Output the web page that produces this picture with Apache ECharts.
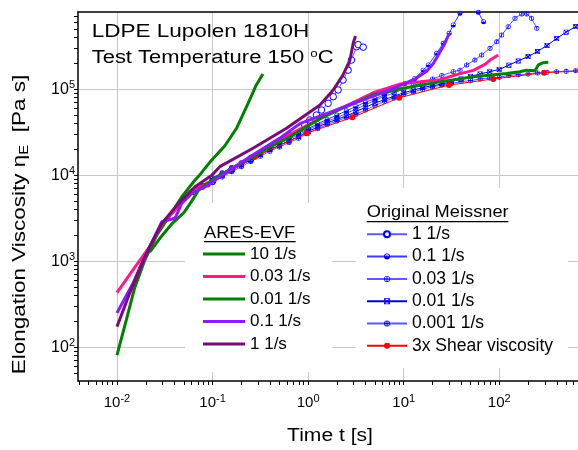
<!DOCTYPE html>
<html><head><meta charset="utf-8">
<script src="https://cdn.jsdelivr.net/npm/echarts@6/dist/echarts.min.js"></script>
<style>html,body{margin:0;padding:0;background:#fff}#c{width:578px;height:450px}</style>
</head><body><div id="c"></div>
<script>
// ---- Data: time t [s], elongational viscosity [Pa s] ----
// ARES-EVF
const aresT_10   = [0.01,0.0125,0.0153,0.0196,0.0261,0.0359,0.0475,0.0656,0.0734,0.0982,0.134,0.179,0.234,0.283,0.336];
const aresE_10   = [81,207,490,1040,2020,3450,5600,8810,10100,15100,21900,35500,67500,109000,151000];
const aresT_003  = [0.01,0.0147,0.022,0.0294,0.044,0.0605,0.0906,0.158,0.316,0.631,1.58,4.79,9.12,23.9,35.8,53.5,70.8,80,97.7];
const aresE_003  = [432,794,1480,2690,4320,6760,8070,12000,19100,29500,50100,91200,115000,129000,148000,166000,195000,219000,251000];
const aresT_001  = [0.022,0.0294,0.0374,0.0499,0.0605,0.0716,0.1,0.2,0.398,0.646,1.44,2.51,4.79,9.89,23.9,53.5,119,165,194,237,256,289,326];
const aresE_001  = [1280,1970,2720,3650,5010,6750,8910,13800,21400,28100,47900,63100,85900,103000,122000,140000,153000,160000,167000,164000,192000,204000,206000];
const aresT_01   = [0.01,0.0147,0.0196,0.0294,0.0405,0.0475,0.0605,0.0834,0.126,0.251,0.501,0.818,1.58,2.73,5.64,9.12,13.6,17.4,20.4,23.0,27.0,29.9];
const aresE_01   = [251,555,1130,2880,3160,4720,6170,7360,10000,16600,26900,39800,52500,66100,89100,110000,135000,162000,200000,251000,343000,448000];
const aresT_1    = [0.01,0.0136,0.0178,0.022,0.0294,0.044,0.0656,0.0982,0.119,0.265,0.594,1.33,1.83,2.32,2.74,2.96,3.13];
const aresE_1    = [174,427,891,1480,2750,4720,7360,10000,12600,20600,35200,65600,98200,147000,219000,343000,417000];
// Original Meissner
const meiT_1     = [0.1,0.158,0.251,0.398,0.631,0.923,1.04,1.22,1.38,1.62,1.83,2.06,2.32,2.62,2.84,3.21,3.34,3.77];
const meiE_1     = [8500,11500,15500,21000,28800,38500,44000,50200,57400,68700,82000,98200,128000,167000,219000,313000,331000,309000];
const meiT_01    = [0.1,0.126,0.158,0.2,0.251,0.316,0.398,0.501,0.631,0.794,1,1.26,1.58,2,2.51,3.16,3.98,5.01,6.31,7.94,10.3,13.1,16.0,18.1,22.1,25.9,29.9,33.0,38.8,47.9,60.3,68.5];
const meiE_01    = [9330,10700,12300,14100,16200,18600,21400,24000,26900,30900,34700,39800,44700,50100,56200,63100,70800,77600,87100,97700,117000,134000,167000,192000,262000,343000,448000,560000,766000,1050000,785000,611000];
const meiT_003   = [0.1,0.126,0.158,0.2,0.251,0.316,0.398,0.501,0.631,0.794,1,1.26,1.58,2,2.51,3.16,3.98,5.01,6.31,7.94,10,12.6,15.8,20,25.1,33.0,38.8,45.6,55.6,65.5,80.0,94.0,106,124,146,172,194,218,247];
const meiE_003   = [9120,10500,12000,13800,15800,18200,20900,23400,26300,29500,33900,38000,42700,46800,52500,58900,66100,74100,83200,91200,100000,110000,120000,132000,145000,160000,167000,192000,219000,251000,300000,357000,428000,535000,670000,752000,752000,670000,512000];
const meiT_001   = [0.079,0.1,0.126,0.158,0.2,0.251,0.316,0.398,0.501,0.631,0.794,1,1.26,1.58,2,2.51,3.16,3.98,5.01,6.31,7.94,10,12.6,15.8,20,25.1,31.6,39.8,50.1,63.1,79.4,100,126,158,200,251,316,398,501,631,794];
const meiE_001   = [7590,8710,10000,11500,13200,15100,17400,20000,22400,25100,28200,32400,36300,40700,44700,49000,55000,61700,69200,75900,83200,91200,97700,105000,110000,115000,123000,132000,141000,151000,160000,170000,191000,214000,240000,275000,324000,389000,462000,537000,617000];
const meiT_0001  = [0.063,0.079,0.1,0.126,0.158,0.2,0.251,0.316,0.398,0.501,0.631,0.794,1,1.26,1.58,2,2.51,3.16,3.98,5.01,6.31,7.94,10,12.6,15.8,20,25.1,31.6,39.8,50.1,63.1,79.4,100,126,158,200,251,316,398,501,631,794];
const meiE_0001  = [6310,7240,8320,9550,11000,12600,14500,16600,19100,21400,24000,26900,30900,34700,38900,42700,46800,51300,57500,64600,72400,79400,87100,93300,100000,107000,112000,117000,123000,126000,132000,135000,138000,145000,148000,151000,155000,158000,160000,162000,164000,166000];
const shearT     = [0.089,0.277,0.96,2.89,8.97,29.7,86.5,294,890];
const shearE     = [7800,16400,30800,47200,79800,112000,132000,156000,166000];
// axis decades (exponents) used for tick labels
const xDecades = [-2,-1,0,1,2];
const yDecades = [2,3,4,5];

// ---- Layout / style ----
const FONT = "'Liberation Sans', Arial, sans-serif";
const XMIN = -2.408, XMAX = 2.824, YMIN = 1.608, YMAX = 5.899;
function minorTicks(lo, hi){
  const out = [];
  for (let d = Math.floor(lo) - 1; d <= Math.ceil(hi); d++)
    for (let k = 1; k <= 9; k++){ const v = d + Math.log10(k); if (v >= lo && v <= hi) out.push(v); }
  return out;
}
function pts(t, e){ return t.map((v, i) => [Math.log10(v), Math.log10(e[i])]); }

const ring = 'M0,-5 A5,5 0 1,1 0,5 A5,5 0 1,1 0,-5 Z M0,-3.8 A3.8,3.8 0 1,0 0,3.8 A3.8,3.8 0 1,0 0,-3.8 Z';
const SYM_HALF = 'path://' + ring + ' M5,0 A5,5 0 0,1 -5,0 Z';
const SYM_PHI  = 'path://' + ring + ' M-0.8,-5 L0.8,-5 L0.8,5 L-0.8,5 Z';
const SYM_PLUS = 'path://' + ring + ' M-0.8,-5 L0.8,-5 L0.8,5 L-0.8,5 Z M-5,-0.8 L5,-0.8 L5,0.8 L-5,0.8 Z';
const SYM_BOXX = 'path://M-5,-5 L5,-5 L5,5 L-5,5 Z M-3.8,-3.8 L-3.8,3.8 L3.8,3.8 L3.8,-3.8 Z M-5,-4 L-4,-5 L5,4 L4,5 Z M4,-5 L5,-4 L-4,5 L-5,4 Z';

function ares(name, t, e, color){
  return {name, type:'line', data: pts(t, e), color, symbol:'none', z:4,
    lineStyle:{width:3, color}, clip:true, silent:true, emphasis:{disabled:true}};
}
function mei(name, t, e, symbol, size, lineColor, open){
  return {name, type:'line', data: pts(t, e), color:'#0000ff', symbol, symbolSize:size, z:2,
    showSymbol:true,
    itemStyle: open ? {color:'#ffffff', borderColor:'#0000ff', borderWidth:1} : {color:'#0000ff', borderWidth:0},
    lineStyle:{width:1, color:lineColor}, clip:true, silent:true, emphasis:{disabled:true}};
}

const supRich = {sup:{fontSize:11, fontFamily:FONT, color:'#000', verticalAlign:'top', lineHeight:10}};
const chart = echarts.init(document.getElementById('c'), null, {renderer:'canvas'});
chart.setOption({
  animation:false,
  backgroundColor:'#fff',
  grid:{left:78, top:12, right:0, bottom:69, containLabel:false},
  xAxis:[
    {type:'value', min:XMIN, max:XMAX, position:'bottom',
     axisLine:{show:true, onZero:false, lineStyle:{color:'#000', width:1.5}},
     axisTick:{show:true, inside:false, length:4, lineStyle:{color:'#000', width:1}, customValues:minorTicks(XMIN, XMAX)},
     axisLabel:{customValues:xDecades, formatter:v => '10{sup|' + v + '}', fontSize:15, fontFamily:FONT, color:'#000',
       lineHeight:20, margin:12, rich:supRich},
     splitLine:{show:false}},
    {type:'value', min:XMIN, max:XMAX, position:'top',
     axisLine:{show:true, onZero:false, lineStyle:{color:'#000', width:1.5}},
     axisTick:{show:false, customValues:xDecades}, axisLabel:{show:false},
     splitLine:{show:true, lineStyle:{color:'#c8c8c8', width:1}}}
  ],
  yAxis:[
    {type:'value', min:YMIN, max:YMAX, position:'left',
     axisLine:{show:true, onZero:false, lineStyle:{color:'#000', width:1.5}},
     axisTick:{show:true, inside:false, length:4, lineStyle:{color:'#000', width:1}, customValues:minorTicks(YMIN, YMAX)},
     axisLabel:{customValues:yDecades, formatter:v => '10{sup|' + v + '}', fontSize:16, fontFamily:FONT, color:'#000',
       lineHeight:20, margin:3, rich:supRich},
     splitLine:{show:false}},
    {type:'value', min:YMIN, max:YMAX, position:'right',
     axisLine:{show:false}, axisTick:{show:false, customValues:yDecades}, axisLabel:{show:false},
     splitLine:{show:true, lineStyle:{color:'#c8c8c8', width:1}}}
  ],
  legend:[
    {data:['ARES 10 1/s','ARES 0.03 1/s','ARES 0.01 1/s','ARES 0.1 1/s','ARES 1 1/s'],
     orient:'vertical', left:203, top:245, padding:0, itemWidth:42, itemHeight:3, itemGap:4.5, icon:'rect',
     selectedMode:false, formatter:n => n.replace(/^ARES /, ''),
     textStyle:{fontSize:17, fontFamily:FONT, color:'#000', lineHeight:18}},
    {data:['Meissner 1 1/s','Meissner 0.1 1/s','Meissner 0.03 1/s','Meissner 0.01 1/s','Meissner 0.001 1/s','3x Shear viscosity'],
     orient:'vertical', left:366, top:225.3, padding:0, itemWidth:40, itemHeight:7.5, itemGap:4.3,
     selectedMode:false, formatter:n => n.replace(/^Meissner /, ''),
     textStyle:{fontSize:17.5, fontFamily:FONT, color:'#000', lineHeight:18}}
  ],
  graphic:[
    {type:'rect', z:1, silent:true, shape:{x:185, y:203, width:147, height:169}, style:{fill:'#fff'}},
    {type:'rect', z:1, silent:true, shape:{x:356, y:188, width:212, height:180}, style:{fill:'#fff'}},
    {type:'text', z:5, x:204, y:233.6, scaleX:1.14, style:{text:'ARES-EVF', fontSize:16, fontFamily:FONT, fill:'#000', align:'left', verticalAlign:'middle'}},
    {type:'line', z:5, shape:{x1:204, y1:241.7, x2:295.7, y2:241.7}, style:{stroke:'#000', lineWidth:1.3}},
    {type:'text', z:5, x:366.7, y:212.6, scaleX:1.14, style:{text:'Original Meissner', fontSize:16, fontFamily:FONT, fill:'#000', align:'left', verticalAlign:'middle'}},
    {type:'line', z:5, shape:{x1:366.7, y1:221.7, x2:508.3, y2:221.7}, style:{stroke:'#000', lineWidth:1.3}},
    {type:'text', z:5, x:91.7, y:32, scaleX:1.25, style:{text:'LDPE Lupolen 1810H', fontSize:18, fontFamily:FONT, fill:'#000', align:'left', verticalAlign:'middle'}},
    {type:'text', z:5, x:91.7, y:58, scaleX:1.22, style:{text:'Test Temperature 150 {sup|o}C', fontSize:18, fontFamily:FONT, fill:'#000', align:'left', verticalAlign:'middle', lineHeight:20,
      rich:{sup:{fontSize:11, fontFamily:FONT, fill:'#000', verticalAlign:'top', lineHeight:11}}}},
    {type:'text', z:5, x:330, y:436, scaleX:1.17, style:{text:'Time t [s]', fontSize:18, fontFamily:FONT, fill:'#000', align:'center', verticalAlign:'middle'}},
    {type:'text', z:5, x:20, y:224.5, rotation:Math.PI/2, scaleX:1.25, style:{text:'Elongation Viscosity η{sub|E}  [Pa s]', fontSize:18, fontFamily:FONT, fill:'#000', align:'center', verticalAlign:'middle', lineHeight:22,
      rich:{sub:{fontSize:12, fontFamily:FONT, fill:'#000', verticalAlign:'bottom', lineHeight:12}}}}
  ],
  series:[
    mei('Meissner 1 1/s', meiT_1, meiE_1, 'circle', 6.5, '#5a5aff', true),
    mei('Meissner 0.1 1/s', meiT_01, meiE_01, SYM_HALF, 5, '#3a3aff'),
    mei('Meissner 0.03 1/s', meiT_003, meiE_003, SYM_PHI, 5, '#5a5aff'),
    mei('Meissner 0.01 1/s', meiT_001, meiE_001, SYM_BOXX, 5, '#0000cc'),
    mei('Meissner 0.001 1/s', meiT_0001, meiE_0001, SYM_PLUS, 5, '#5a5aff'),
    {name:'3x Shear viscosity', type:'line', data:pts(shearT, shearE), color:'#ff0000', symbol:'circle', symbolSize:6, z:3,
     itemStyle:{color:'#ff0000'}, lineStyle:{width:1, color:'#ff0000'}, clip:true, silent:true, emphasis:{disabled:true}},
    ares('ARES 10 1/s', aresT_10, aresE_10, '#008000'),
    ares('ARES 0.03 1/s', aresT_003, aresE_003, '#ff1a8c'),
    ares('ARES 0.01 1/s', aresT_001, aresE_001, '#008000'),
    ares('ARES 0.1 1/s', aresT_01, aresE_01, '#8c1aff'),
    ares('ARES 1 1/s', aresT_1, aresE_1, '#7a0a7a')
  ]
});
</script>
</body></html>
